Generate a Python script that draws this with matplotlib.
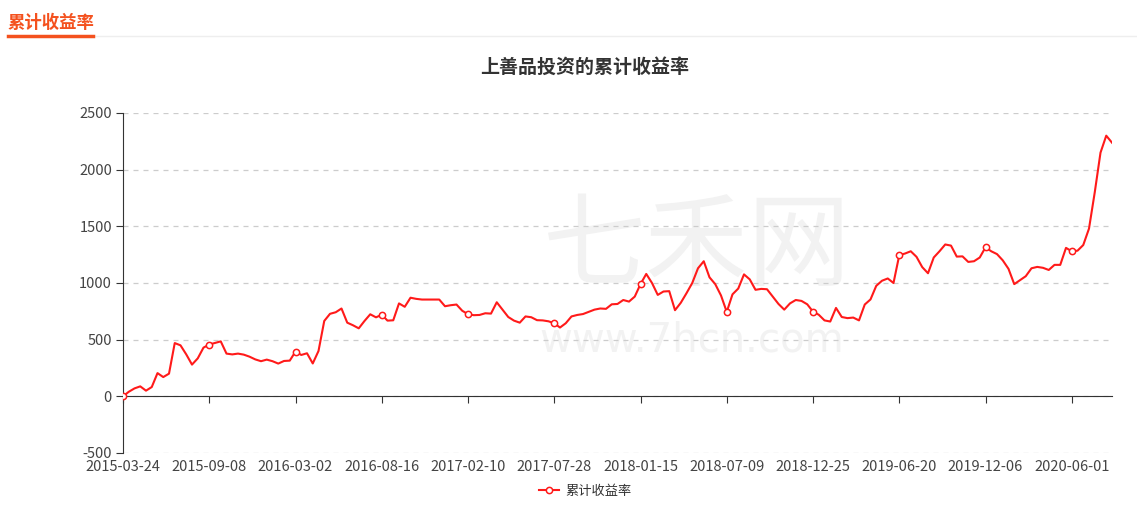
import matplotlib
matplotlib.use("Agg")
import matplotlib.pyplot as plt

plt.rcParams['font.family'] = ['Noto Sans CJK SC', 'DejaVu Sans']
plt.rcParams['axes.unicode_minus'] = False

# tick labels on the category axis (one every 15 points)
tick_labels = ['2015-03-24', '2015-09-08', '2016-03-02', '2016-08-16',
               '2017-02-10', '2017-07-28', '2018-01-15', '2018-07-09',
               '2018-12-25', '2019-06-20', '2019-12-06', '2020-06-01']
step = 15

# cumulative return (%)
values = [
    0, 40, 70, 88, 50, 82, 205, 170, 200, 470,
    450, 370, 280, 335, 430, 457, 471, 485, 377, 370,
    377, 368, 350, 326, 310, 324, 310, 289, 312, 315,
    395, 365, 380, 290, 400, 665, 728, 742, 775, 650,
    627, 600, 665, 724, 697, 720, 668, 671, 820, 790,
    870, 860, 854, 854, 854, 854, 795, 804, 810, 755,
    725, 716, 718, 733, 730, 830, 765, 700, 668, 650,
    705, 698, 672, 670, 662, 645, 607, 645, 705, 718,
    726, 745, 765, 775, 772, 812, 815, 850, 836, 880,
    990, 1080, 1000, 895, 925, 928, 760, 825, 910, 1000,
    1130, 1192, 1050, 990, 890, 745, 900, 951, 1076, 1032,
    940, 948, 945, 880, 815, 765, 820, 850, 842, 812,
    747, 720, 670, 660, 780, 700, 690, 695, 670, 810,
    855, 975, 1020, 1040, 1000, 1245, 1260, 1280, 1231, 1140,
    1086, 1225, 1280, 1340, 1330, 1233, 1235, 1186, 1192, 1225,
    1315, 1280, 1255, 1200, 1125, 990, 1025, 1060, 1130, 1142,
    1134, 1115, 1160, 1160, 1310, 1280, 1285, 1335, 1480, 1800,
    2150, 2300, 2238,
]
series_name = '累计收益率'
title = '上善品投资的累计收益率'

fig = plt.figure(figsize=(11.37, 5.13), dpi=100)

# page header with orange underline
fig.text(8 / 1137, 1 - 23 / 513, series_name, color='#f4511e', fontsize=12.5,
         fontweight='bold', va='center', ha='left')
fig.add_artist(plt.Line2D([93 / 1137, 1], [1 - 36 / 513] * 2, color='#eeeeee', lw=1))
fig.add_artist(plt.Line2D([8 / 1137, 93 / 1137], [1 - 35.5 / 513] * 2, color='#f4511e', lw=2.5))

ax = fig.add_axes([123 / 1137, 1 - 453 / 513, 989 / 1137, 340 / 513])
xs = list(range(len(values)))

# faint watermark
ax.text(0.58, 0.6, '七禾网', transform=ax.transAxes, fontsize=74, color='#f2f2f2',
        ha='center', va='center', zorder=0)
ax.text(0.575, 0.33, 'www.7hcn.com', transform=ax.transAxes, fontsize=29, color='#f2f2f2',
        ha='center', va='center', zorder=0, family='DejaVu Sans')

ax.plot(xs, values, color='#ff1a1a', lw=1.5, marker='o', markevery=step, markersize=4.5,
        markerfacecolor='white', markeredgecolor='#ff1a1a', markeredgewidth=1.1,
        label=series_name, zorder=3)

ax.set_xlim(0, len(values) - 1)
ax.set_ylim(-500, 2500)
ax.set_yticks(range(-500, 2501, 500))
ax.yaxis.grid(True, color='#cccccc', linestyle=(0, (4, 4)), lw=0.9)
ax.set_axisbelow(True)
ax.tick_params(axis='y', length=5, color='#333333', labelcolor='#444444', labelsize=10.5, pad=3)

for side in ['top', 'right']:
    ax.spines[side].set_visible(False)
ax.spines['left'].set_color('#333333')
ax.spines['bottom'].set_position(('data', 0))
ax.spines['bottom'].set_color('#333333')

tick_pos = [i * step for i in range(len(tick_labels))]
ax.set_xticks(tick_pos)
ax.set_xticklabels([])
ax.tick_params(axis='x', length=5, color='#333333')

# labels sit under the plot area, not under the zero line
sec = ax.secondary_xaxis(0)
sec.set_xticks(tick_pos)
sec.set_xticklabels(tick_labels)
sec.tick_params(length=0, labelcolor='#444444', labelsize=10.5, pad=5)
sec.spines['bottom'].set_visible(False)

fig.text(0.514, 1 - 67 / 513, title, ha='center', va='center', fontsize=13.7,
         fontweight='bold', color='#333333')

fig.legend(loc='center', bbox_to_anchor=(0.515, 1 - 491 / 513), frameon=False,
           fontsize=9.5, handlelength=1.5, handletextpad=0.5, labelcolor='#333333')

fig.savefig('out.png', dpi=100)
